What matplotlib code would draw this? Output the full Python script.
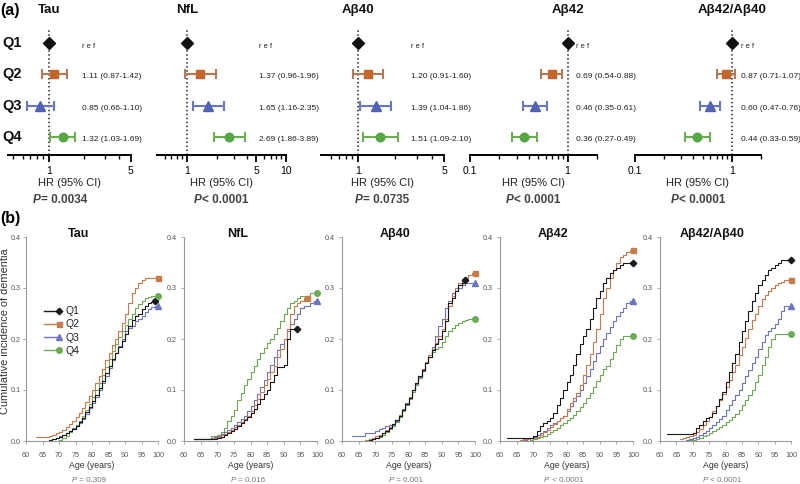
import numpy as np
import matplotlib
matplotlib.use("Agg")
import matplotlib.pyplot as plt
from matplotlib.lines import Line2D
from matplotlib.legend_handler import HandlerBase
from matplotlib.ticker import FixedLocator, FixedFormatter, NullFormatter
from matplotlib.transforms import blended_transform_factory

plt.rcParams['font.family'] = ['Liberation Sans', 'DejaVu Sans']

# ---------------- data: panel (a) hazard ratios (Q2, Q3, Q4 vs Q1 ref) ----------------
quartiles = ["Q1", "Q2", "Q3", "Q4"]
biomarkers = ["Tau", "NfL", "Aβ40", "Aβ42", "Aβ42/Aβ40"]

tau_hr = [1.11, 0.85, 1.32]
tau_lo = [0.87, 0.66, 1.03]
tau_hi = [1.42, 1.10, 1.69]

nfl_hr = [1.37, 1.65, 2.69]
nfl_lo = [0.96, 1.16, 1.86]
nfl_hi = [1.96, 2.35, 3.89]

ab40_hr = [1.20, 1.39, 1.51]
ab40_lo = [0.91, 1.04, 1.09]
ab40_hi = [1.60, 1.86, 2.10]

ab42_hr = [0.69, 0.46, 0.36]
ab42_lo = [0.54, 0.35, 0.27]
ab42_hi = [0.88, 0.61, 0.49]

ratio_hr = [0.87, 0.60, 0.44]
ratio_lo = [0.71, 0.47, 0.33]
ratio_hi = [1.07, 0.76, 0.59]

forest_p = ["= 0.0034", "< 0.0001", "= 0.0735", "< 0.0001", "< 0.0001"]
forest_major = [[1, 5], [1, 5, 10], [1, 5], [0.1, 1], [0.1, 1]]
forest_major_lbl = [["1", "5"], ["1", "5", "10"], ["1", "5"], ["0.1", "1"], ["0.1", "1"]]

# ---------------- data: panel (b) cumulative incidence (start age, yearly values) ----------------
km_tau = {
    "Q1": (67, [.002, .003, .005, .008, .011, .015, .019, .024, .030, .037, .046, .056, .067, .079,
                .091, .104, .118, .133, .148, .160, .172, .185, .197, .210, .225, .238, .245, .250,
                .258, .265, .270, .272, .275]),
    "Q2": (63, [.008, .008, .008, .008, .010, .012, .015, .018, .022, .027, .033, .040, .047, .055,
                .065, .076, .088, .100, .113, .127, .142, .158, .173, .188, .200, .215, .232, .250,
                .270, .290, .300, .310, .315, .320, .320, .320, .320, .320]),
    "Q3": (67, [.002, .004, .006, .009, .012, .016, .020, .025, .030, .036, .044, .053, .064, .075,
                .087, .100, .113, .128, .143, .158, .172, .186, .200, .215, .222, .225, .235, .240,
                .245, .252, .258, .262, .265, .265]),
    "Q4": (70, [.002, .005, .010, .017, .024, .031, .040, .050, .061, .073, .086, .100, .114, .129,
                .145, .161, .176, .190, .203, .216, .228, .240, .250, .260, .268, .275, .280, .282,
                .284, .285, .285]),
}
km_nfl = {
    "Q1": (63, [.003, .003, .003, .003, .003, .003, .003, .006, .008, .012, .016, .020, .024, .030,
                .036, .042, .048, .055, .062, .072, .082, .092, .100, .115, .130, .145, .145, .150,
                .200, .220, .220, .220]),
    "Q2": (63, [.003, .003, .003, .003, .003, .003, .005, .008, .011, .014, .018, .022, .027, .032,
                .038, .044, .050, .058, .070, .083, .097, .110, .122, .135, .148, .165, .180, .200,
                .220, .250, .265, .270, .275, .280, .280]),
    "Q3": (63, [.003, .003, .003, .003, .003, .005, .007, .010, .013, .017, .021, .026, .031, .037,
                .043, .050, .058, .068, .080, .093, .106, .120, .135, .150, .165, .178, .190, .200,
                .215, .230, .240, .250, .260, .265, .265, .270, .275, .275]),
    "Q4": (63, [.003, .003, .003, .003, .003, .010, .010, .012, .018, .025, .040, .050, .060, .080,
                .095, .110, .122, .135, .148, .160, .172, .183, .193, .200, .210, .222, .235, .250,
                .260, .270, .275, .280, .285, .285, .285, .290, .290, .290]),
}
km_ab40 = {
    "Q1": (68, [.002, .003, .006, .010, .015, .020, .026, .033, .041, .050, .060, .072, .085, .100,
                .113, .127, .140, .152, .165, .178, .190, .200, .215, .235, .270, .280, .295, .305,
                .310, .315]),
    "Q2": (67, [.002, .004, .006, .009, .012, .016, .021, .027, .034, .042, .051, .061, .073, .086,
                .100, .114, .128, .142, .155, .168, .180, .192, .205, .220, .240, .265, .285, .300,
                .310, .315, .320, .325, .330, .330]),
    "Q3": (63, [.010, .010, .010, .010, .015, .015, .016, .020, .023, .026, .030, .031, .032, .040,
                .050, .062, .074, .087, .100, .112, .125, .138, .152, .168, .185, .205, .225, .240,
                .260, .275, .290, .295, .300, .305, .310, .310, .310, .310]),
    "Q4": (68, [.001, .003, .005, .008, .012, .018, .024, .030, .038, .047, .058, .070, .083, .097,
                .110, .124, .138, .152, .165, .175, .180, .185, .195, .205, .215, .222, .228, .232,
                .235, .238, .240, .240, .240]),
}
km_ab42 = {
    "Q1": (62, [.005, .005, .005, .005, .005, .005, .005, .005, .010, .020, .030, .035, .040, .045,
                .055, .070, .085, .100, .115, .130, .150, .170, .190, .205, .220, .240, .260, .280,
                .295, .310, .320, .330, .335, .340, .345, .350, .350, .350, .350]),
    "Q2": (66, [.002, .003, .004, .005, .006, .008, .012, .017, .022, .027, .033, .040, .045, .050,
                .062, .075, .085, .095, .110, .130, .150, .170, .195, .220, .250, .280, .300, .320,
                .335, .350, .360, .365, .370, .375, .375]),
    "Q3": (67, [.002, .004, .005, .008, .011, .015, .020, .026, .031, .036, .040, .045, .050, .058,
                .068, .078, .088, .100, .113, .127, .142, .157, .172, .187, .200, .212, .224, .235,
                .245, .252, .260, .270, .275, .275]),
    "Q4": (69, [.002, .004, .006, .008, .010, .013, .017, .021, .026, .031, .036, .041, .046, .051,
                .058, .066, .075, .085, .095, .105, .117, .130, .142, .148, .160, .175, .188, .200,
                .205, .205, .205, .205]),
}
km_ratio = {
    "Q1": (62, [.013, .013, .013, .013, .013, .013, .013, .013, .015, .025, .032, .040, .045, .047,
                .055, .068, .082, .097, .115, .135, .152, .170, .195, .215, .235, .255, .275, .290,
                .305, .315, .325, .335, .340, .345, .350, .355, .355, .355, .355]),
    "Q2": (66, [.003, .005, .007, .009, .012, .017, .024, .031, .039, .048, .058, .069, .081, .093,
                .105, .120, .135, .150, .168, .185, .202, .220, .237, .250, .265, .278, .287, .295,
                .300, .305, .310, .312, .315, .315, .315]),
    "Q3": (68, [.002, .003, .005, .008, .011, .015, .020, .025, .031, .037, .044, .050, .060, .070,
                .080, .090, .100, .113, .127, .140, .152, .165, .180, .195, .207, .215, .222, .230,
                .240, .255, .265, .265, .265]),
    "Q4": (69, [.001, .002, .004, .006, .009, .012, .015, .019, .023, .027, .032, .037, .042, .047,
                .052, .060, .070, .080, .090, .100, .115, .130, .150, .165, .185, .200, .210, .210,
                .210, .210, .210, .210]),
}
km_p = ["= 0.309", "= 0.016", "= 0.001", "< 0.0001", "< 0.0001"]

# ---------------- styling ----------------
MK = ['D', 's', '^', 'o']
MK_COL = ['#111111', '#c4652b', '#5262b8', '#55a843']
BAR_COL = ['#111111', '#b47a58', '#6676c8', '#6aae50']
KM_COL = ['#1a1a1a', '#c97b4c', '#6b74c6', '#6cab52']
FOREST_MS = [6.0, 6.1, 7.2, 6.2]
KM_MS = [3.3, 3.6, 4.2, 4.0]

W, H = 800, 484
fig = plt.figure(figsize=(W / 100, H / 100), dpi=100)


def rect(x0, x1, ytop, ybot):
    return [x0 / W, 1 - ybot / H, (x1 - x0) / W, (ybot - ytop) / H]


# ---------------- panel (a) ----------------
forest_data = [(tau_hr, tau_lo, tau_hi), (nfl_hr, nfl_lo, nfl_hi), (ab40_hr, ab40_lo, ab40_hi),
               (ab42_hr, ab42_lo, ab42_hi), (ratio_hr, ratio_lo, ratio_hi)]
forest_px = [(8, 130.6), (157, 286), (321, 444), (470, 597), (635, 761)]
forest_xlim = [(0.45, 5), (0.5, 10), (0.5, 5), (0.1, 2), (0.1, 2)]
forest_minor = [[0.5, 0.6, 0.7, 0.8, 0.9, 2, 3, 4],
                [0.6, 0.7, 0.8, 0.9, 2, 3, 4, 6, 7, 8, 9],
                [0.6, 0.7, 0.8, 0.9, 2, 3, 4],
                [0.2, 0.3, 0.4, 0.5, 0.6, 0.7, 0.8, 0.9, 2],
                [0.2, 0.3, 0.4, 0.5, 0.6, 0.7, 0.8, 0.9, 2]]
text_xfrac = [0.60, 0.79, 0.732, 0.835, 0.841]
p_centers_px = [60, 221, 382, 533, 698]

p_items = []


def p_label(xc_px, y_px, rest, size, weight, color):
    tp = fig.text(0, 1 - y_px / H, "P", fontsize=size, fontweight=weight, style='italic',
                  color=color, va='center', ha='left')
    tr = fig.text(0, 1 - y_px / H, rest, fontsize=size, fontweight=weight,
                  color=color, va='center', ha='left')
    p_items.append((xc_px / W, tp, tr))


forest_axes = []
for i, name in enumerate(biomarkers):
    x0, x1 = forest_px[i]
    ax = fig.add_axes(rect(x0, x1, 30, 155))
    ax.patch.set_visible(False)
    forest_axes.append(ax)
    hr, lo, hi = forest_data[i]
    ax.set_xscale('log')
    ax.set_xlim(*forest_xlim[i])
    ax.set_ylim(0.425, 4.415)
    ax.axvline(1, color='#222222', ls=(0, (1, 1.6)), lw=1.1, zorder=1)
    ax.plot([1], [4], marker=MK[0], color=MK_COL[0], ms=FOREST_MS[0], ls='none', zorder=3)
    tr_text = blended_transform_factory(ax.transAxes, ax.transData)
    ax.text(text_xfrac[i], 4 - 0.1, "r e f", fontsize=5.4, va='center', ha='left',
            transform=tr_text, color='#222222')
    for j in range(3):
        y = 3 - j
        ax.errorbar([hr[j]], [y], xerr=[[hr[j] - lo[j]], [hi[j] - hr[j]]], fmt='none',
                    ecolor=BAR_COL[j + 1], elinewidth=1.5, capsize=3.6, capthick=1.5, zorder=2)
        ax.plot([hr[j]], [y], marker=MK[j + 1], color=MK_COL[j + 1], ms=FOREST_MS[j + 1],
                ls='none', zorder=3)
        ax.text(text_xfrac[i], y - 0.08, f"{hr[j]:.2f} ({lo[j]:.2f}-{hi[j]:.2f})",
                fontsize=6.0, va='center', ha='left', transform=tr_text, color='#222222')
    for s in ['left', 'top', 'right']:
        ax.spines[s].set_visible(False)
    ax.spines['bottom'].set_linewidth(1.4)
    ax.set_yticks([])
    ax.xaxis.set_major_locator(FixedLocator(forest_major[i]))
    ax.xaxis.set_major_formatter(FixedFormatter(forest_major_lbl[i]))
    ax.xaxis.set_minor_locator(FixedLocator(forest_minor[i]))
    ax.xaxis.set_minor_formatter(NullFormatter())
    ax.tick_params(axis='x', which='major', length=5, width=1.3, labelsize=7.5, pad=3)
    ax.tick_params(axis='x', which='minor', length=3, width=1.0)
    # title centered on the reference line
    ax.text(1, 1 + 20 / 125, name,
            transform=blended_transform_factory(ax.transData, ax.transAxes),
            ha='center', va='center', fontsize=9.5, fontweight='bold', color='#111111')
    fig.text((x0 + x1) / 2 / W, 1 - 183 / H, "HR (95% CI)", ha='center', va='center',
             fontsize=8, color='#222222')
    p_label(p_centers_px[i], 200, forest_p[i], 8.5, 'bold', '#444444')

# row labels
ax0 = forest_axes[0]
tr_rows = blended_transform_factory(fig.transFigure, ax0.transData)
for k, q in enumerate(quartiles):
    fig.text(2 / W, 4 - k, q, transform=tr_rows, va='center', ha='left', fontsize=10.5,
             fontweight='bold', color='#111111')

fig.text(0 / W, 1 - 10 / H, "(a)", fontsize=11.5, fontweight='bold', va='center', ha='left')
fig.text(0 / W, 1 - 218 / H, "(b)", fontsize=11.5, fontweight='bold', va='center', ha='left')

# ---------------- panel (b) ----------------
km_all = [km_tau, km_nfl, km_ab40, km_ab42, km_ratio]
km_px = [(26, 158), (184, 317), (342, 475), (500, 633), (660, 791)]


class EndMarkerHandler(HandlerBase):
    def create_artists(self, legend, orig_handle, xdescent, ydescent, width, height,
                       fontsize, trans):
        yc = height / 2 - ydescent
        ln = Line2D([-xdescent, -xdescent + width], [yc, yc], color=orig_handle.get_color(),
                    lw=orig_handle.get_linewidth())
        mk = Line2D([-xdescent + width], [yc], marker=orig_handle.get_marker(),
                    color=orig_handle.get_color(), ms=orig_handle.get_markersize(), ls='none')
        ln.set_transform(trans)
        mk.set_transform(trans)
        return [ln, mk]


for i, name in enumerate(biomarkers):
    x0, x1 = km_px[i]
    ax = fig.add_axes(rect(x0, x1, 237, 441))
    ax.patch.set_visible(False)
    handles = []
    for k, q in enumerate(quartiles):
        start, vals = km_all[i][q]
        ages = start + np.arange(len(vals))
        ax.plot(ages, vals, drawstyle='steps-post', color=KM_COL[k], lw=0.8,
                zorder=2 + (3 - k) * 0.1)
        ax.plot([ages[-1]], [vals[-1]], marker=MK[k], color=KM_COL[k], ms=KM_MS[k], ls='none',
                zorder=3, clip_on=False)
        handles.append(Line2D([], [], color=KM_COL[k], lw=1.0, marker=MK[k], ms=KM_MS[k]))
    ax.set_xlim(60, 100)
    ax.set_ylim(0, 0.4)
    ax.set_xticks(range(60, 101, 5))
    ax.set_yticks([0, 0.1, 0.2, 0.3, 0.4])
    ax.set_yticklabels(["0.0", "0.1", "0.2", "0.3", "0.4"])
    for s in ['top', 'right']:
        ax.spines[s].set_visible(False)
    for s in ['left', 'bottom']:
        ax.spines[s].set_color('#9a9a9a')
        ax.spines[s].set_linewidth(0.8)
    ax.tick_params(axis='both', labelsize=5.2, labelcolor='#555555', length=2, width=0.6,
                   color='#9a9a9a')
    ax.tick_params(axis='x', pad=6)
    ax.tick_params(axis='y', pad=2 if i == 0 else 3)
    ax.text(0.4, 1.017, name, transform=ax.transAxes, ha='center', va='center', fontsize=9,
            fontweight='bold', color='#111111')
    fig.text((x0 + x1) / 2 / W, 1 - 466 / H, "Age (years)", ha='center', va='center',
             fontsize=6.3, color='#333333')
    p_label((x0 + x1) / 2 - 3, 480, " " + km_p[i], 5.8, 'normal', '#777777')
    if i == 0:
        ax.legend(handles, quartiles, handler_map={Line2D: EndMarkerHandler()},
                  loc='upper left', bbox_to_anchor=(0.14, 0.66), frameon=False,
                  fontsize=7.5, handlelength=1.4, handletextpad=0.6, labelspacing=0.3,
                  borderpad=0, borderaxespad=0, labelcolor='#222222')

fig.text(5 / W, 1 - 331 / H, "Cumulative incidence of dementia", rotation=90, ha='center',
         va='center', fontsize=7.9, color='#333333')

# center the italic-P labels
fig.canvas.draw()
r = fig.canvas.get_renderer()
for xc, tp, tr in p_items:
    wp = tp.get_window_extent(r).width / fig.bbox.width
    wr = tr.get_window_extent(r).width / fig.bbox.width
    xs = xc - (wp + wr) / 2
    tp.set_x(xs)
    tr.set_x(xs + wp)

fig.savefig("out.png", dpi=100)
